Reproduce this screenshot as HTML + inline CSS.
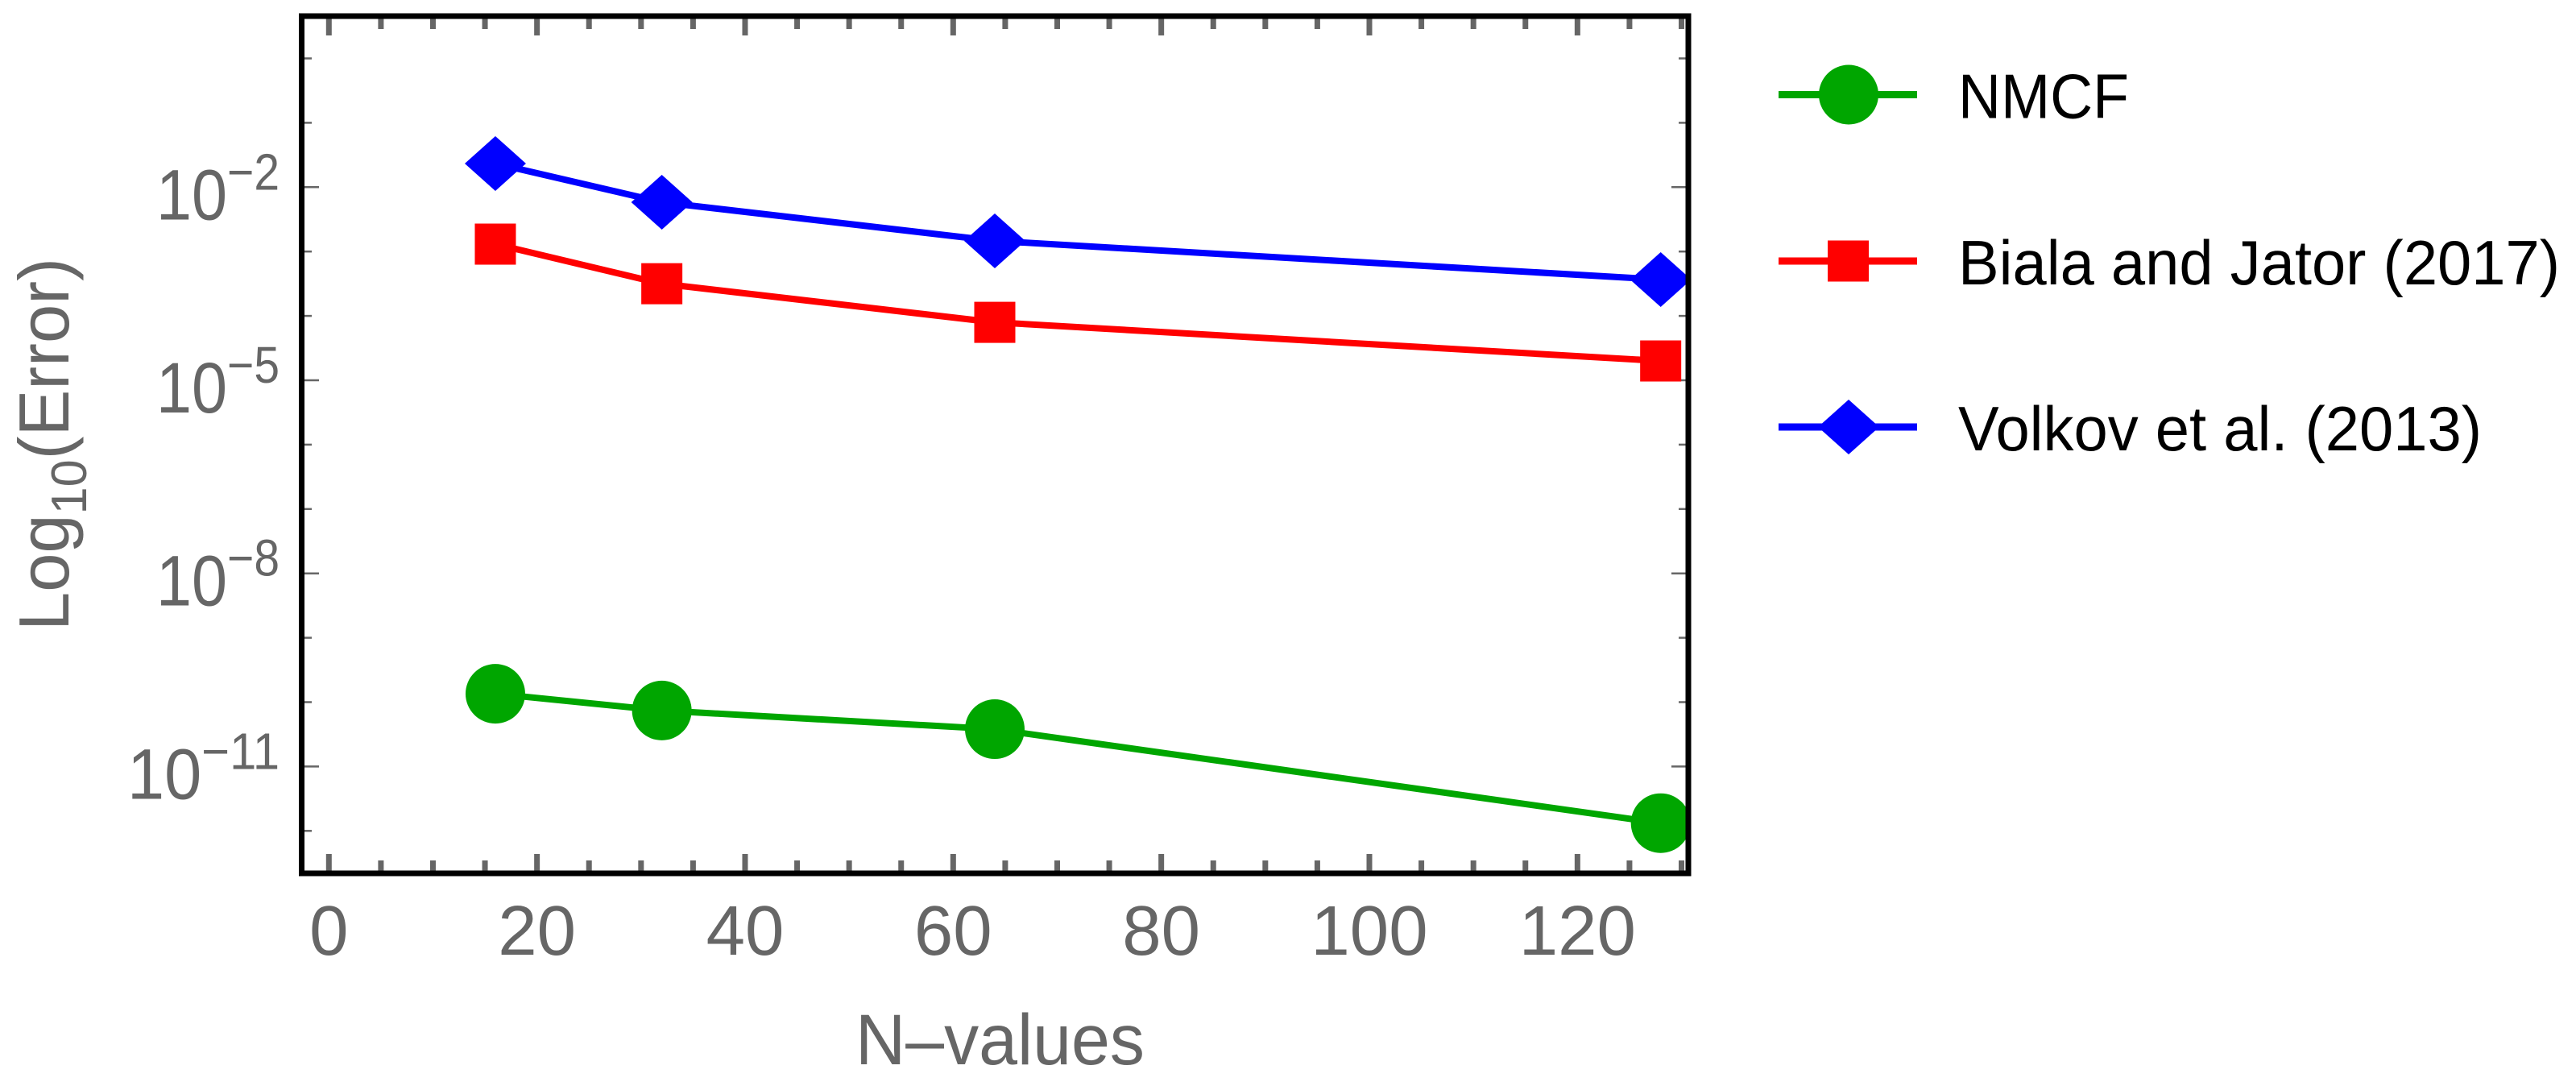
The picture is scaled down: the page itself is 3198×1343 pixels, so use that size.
<!DOCTYPE html>
<html><head><meta charset="utf-8"><style>
html,body{margin:0;padding:0;background:#fff;}
svg{display:block;}
text{font-family:"Liberation Sans",sans-serif;}
</style></head><body>
<svg id="chart" width="3198" height="1343" viewBox="0 0 3198 1343" xmlns="http://www.w3.org/2000/svg">
<g id="ticks"></g>
<g id="series"></g>
<rect x="374.5" y="20" width="1721.5" height="1064" fill="none" stroke="#000" stroke-width="7"/>
<g id="labels"></g>
<text x="1062" y="1321" font-size="89" fill="#666" textLength="359" lengthAdjust="spacingAndGlyphs">N–values</text>
<text transform="translate(85,783) rotate(-90)" font-size="88" fill="#666" textLength="463" lengthAdjust="spacingAndGlyphs">Log<tspan font-size="62" dy="22">10</tspan><tspan dy="-22">(Error)</tspan></text>
<g id="legend"></g>
</svg>
<script>
const nValues = [16, 32, 64, 128];
const nmcfLog = [-9.87, -10.13, -10.42, -11.88];
const bialaLog = [-2.885, -3.50, -4.10, -4.70];
const volkovLog = [-1.633, -2.234, -2.835, -3.436];
const xTickLabels = [0, 20, 40, 60, 80, 100, 120];
const yTickExponents = [-2, -5, -8, -11];
const seriesNames = ["NMCF", "Biala and Jator (2017)", "Volkov et al. (2013)"];

const NS = "http://www.w3.org/2000/svg";
const X0 = 408.3, XS = 12.917;
const Y0 = 232.3, YS = 79.9;
const xs = v => X0 + v * XS;
const ys = lg => Y0 - (lg + 2) * YS;
const FL = 378, FR = 2093, FT = 23, FB = 1081;

function mk(tag, attrs, parent) {
  const e = document.createElementNS(NS, tag);
  for (const k in attrs) e.setAttribute(k, attrs[k]);
  parent.appendChild(e);
  return e;
}
const ticks = document.getElementById('ticks');
const labels = document.getElementById('labels');
for (let v = 0; v <= 130; v += 5) {
  const major = v % 20 === 0;
  const len = major ? 21 : 13;
  const x = xs(v);
  if (x > FR) break;
  const t1 = mk('line', {x1: x, x2: x, y1: FB, y2: FB - len, stroke: '#666', 'stroke-width': 7}, ticks);
  
  
  const t2 = mk('line', {x1: x, x2: x, y1: FT, y2: FT + len, stroke: '#666', 'stroke-width': 7}, ticks);
  
  
}
xTickLabels.forEach(v => {
  const t = mk('text', {x: xs(v), y: 1185, 'font-size': 87, fill: '#666', 'text-anchor': 'middle'}, labels);
  t.textContent = v;
  
  
});
for (let d = 0; d >= -12; d--) {
  const y = ys(d);
  if (y < FT || y > FB) continue;
  const major = yTickExponents.includes(d);
  const len = major ? 18 : 9;
  const a = mk('line', {x1: FL - 4, x2: FL + len, y1: y, y2: y, stroke: '#666', 'stroke-width': 2.5}, ticks);
  
  
  const b = mk('line', {x1: FR + 4, x2: FR - len, y1: y, y2: y, stroke: '#666', 'stroke-width': 2.5}, ticks);
  
  
}
yTickExponents.forEach(e => {
  const y = ys(e);
  const wide = Math.abs(e) >= 10;
  const w = wide ? 189 : 153;
  const t = mk('text', {x: 347 - w, y: y + 40, 'font-size': 89, fill: '#666', textLength: w, lengthAdjust: 'spacingAndGlyphs'}, labels);
  
  
  t.appendChild(document.createTextNode('10'));
  const s = mk('tspan', {'font-size': 64, dy: -37}, t);
  s.textContent = '−' + Math.abs(e);
});
const series = document.getElementById('series');
const colors = ['#00a600', '#ff0000', '#0000ff'];
const data = [nmcfLog, bialaLog, volkovLog];
const names = ['nmcf', 'biala-jator', 'volkov'];
function marker(kind, cx, cy, color, parent) {
  let m;
  if (kind === 0) m = mk('ellipse', {cx: cx, cy: cy, rx: 37, ry: 37, fill: color}, parent);
  else if (kind === 1) m = mk('rect', {x: cx - 25.5, y: cy - 25.5, width: 51, height: 51, fill: color}, parent);
  else m = mk('polygon', {points: `${cx-38},${cy} ${cx},${cy-34} ${cx+38},${cy} ${cx},${cy+34}`, fill: color}, parent);
  return m;
}
data.forEach((arr, si) => {
  const g = mk('g', {}, series);
  
  
  const pts = arr.map((v, i) => xs(nValues[i]) + ',' + ys(v)).join(' ');
  const pl = mk('polyline', {points: pts, fill: 'none', stroke: colors[si], 'stroke-width': 8}, g);
  
  
  arr.forEach((v, i) => {
    const m = marker(si, xs(nValues[i]), ys(v), colors[si], g);
    
    
  });
});
const legend = document.getElementById('legend');
const legY = [117.5, 324, 530];
const legW = [212, 747, 650];
seriesNames.forEach((nm, i) => {
  const g = mk('g', {}, legend);
  
  
  mk('line', {x1: 2208, x2: 2380, y1: legY[i], y2: legY[i], stroke: colors[i], 'stroke-width': 9}, g);
  if (i === 0) mk('ellipse', {cx: 2295, cy: legY[i], rx: 37, ry: 37, fill: colors[i]}, g);
  else if (i === 1) mk('rect', {x: 2269, y: legY[i] - 25.5, width: 51, height: 51, fill: colors[i]}, g);
  else mk('polygon', {points: `${2257},${legY[i]} ${2295},${legY[i]-34} ${2333},${legY[i]} ${2295},${legY[i]+34}`, fill: colors[i]}, g);
  const t = mk('text', {x: 2431, y: legY[i] + 29, 'font-size': 78, fill: '#000', textLength: legW[i], lengthAdjust: 'spacingAndGlyphs'}, g);
  t.textContent = nm;
  
  
});
</script>
</body></html>
